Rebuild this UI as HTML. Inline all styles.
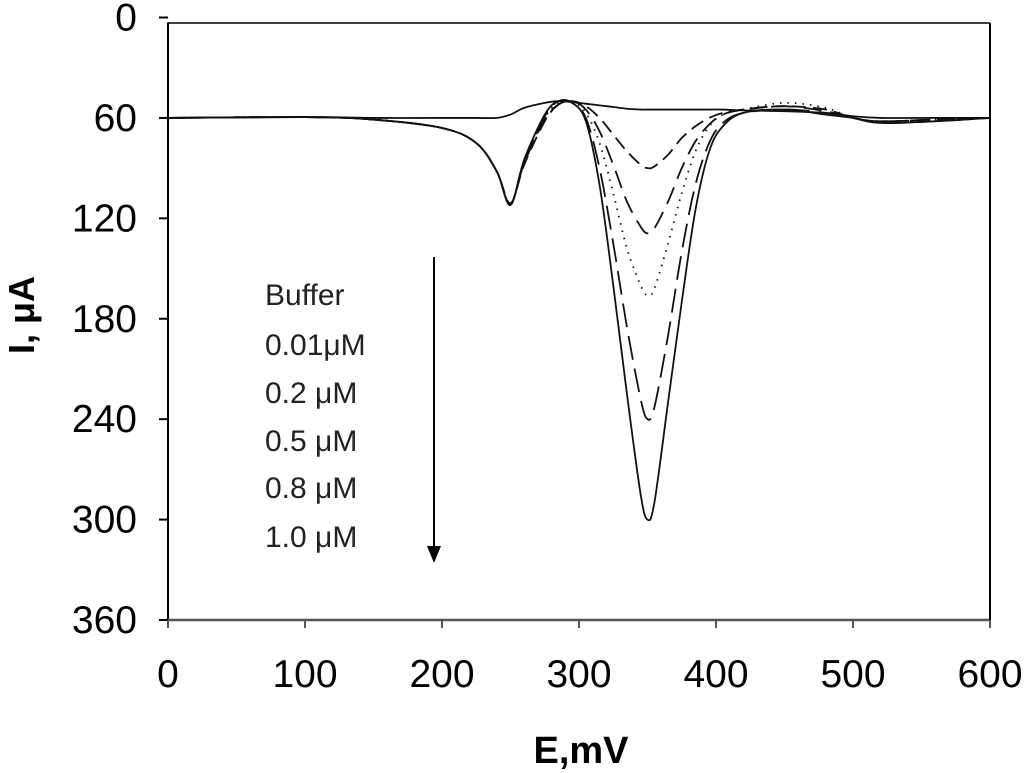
<!DOCTYPE html>
<html><head><meta charset="utf-8"><style>
html,body{margin:0;padding:0;background:#fff;}
svg{display:block;font-family:"Liberation Sans",Arial,sans-serif;}
</style></head><body>
<svg id="chart" width="1024" height="773" viewBox="0 0 1024 773">
<g id="axes"></g>
<g id="series"></g>
<g font-size="30" fill="#222">
<text x="265" y="305">Buffer</text>
<text x="265" y="355">0.01μM</text>
<text x="265" y="403">0.2 μM</text>
<text x="265" y="451">0.5 μM</text>
<text x="265" y="498">0.8 μM</text>
<text x="265" y="547">1.0 μM</text>
<line x1="434" y1="257" x2="434" y2="548" stroke="#000" stroke-width="2"/>
<polygon points="427,546 441,546 434,563" fill="#000"/>
</g>
<text x="581" y="763" text-anchor="middle" font-size="38" font-weight="bold">E,mV</text>
<text transform="translate(34,315) rotate(-90)" text-anchor="middle" font-size="36" font-weight="bold">I, μA</text>
</svg>
<script>
const xTicks=[0,100,200,300,400,500,600];
const yTicks=[0,60,120,180,240,300,360];
const E=[0,100,150,200,225,240,250,260,275,285,295,305,315,325,335,345,350,355,365,375,385,395,405,420,450,480,500,520,560,600];
const buffer=[60,59.5,60,60,60,60,58,54,51,50,50.5,51.5,52.5,53.5,54.5,55,55,55,55,55,55,55,55,55.5,56,57,59,60,60,60];
const c001=[60,59.5,61,66,75,92,111,88,62,52,50,53,60,70,80,88,90,89,82,72,65,60,57,55,53,55,60,62,61,60];
const c02=[60,59.5,61,66,75,92,111,87,61,52,50,55,68,88,110,125,129,126,110,90,74,64,58,55,53,56,60,62,61,60];
const c05=[60,59.5,61,66,75,92,111,86,60,51,50,57,75,105,138,160,166,162,135,105,80,65,58,55,51,54,60,62,61,60];
const c08=[60,59.5,61,66,75,92,112,85,59,50,51,60,90,135,185,228,240,233,190,140,100,75,63,57,55,57,60,63,62,60];
const c10=[60,59.5,61,66,75,92,112,85,58,50,51,62,100,160,225,285,300,290,230,170,115,80,65,57,55,58,60,63,62,60];
const X0=168,X1=990,Y0=17.5,Y1=620;
function xs(v){return X0+(v-0)*(X1-X0)/600;}
function ys(v){return Y0+(v-0)*(Y1-Y0)/360;}
const NS="http://www.w3.org/2000/svg";
const axes=document.getElementById('axes');
function mk(tag,attrs,parent){const e=document.createElementNS(NS,tag);for(const k in attrs)e.setAttribute(k,attrs[k]);parent.appendChild(e);return e;}
let l=mk('line',{x1:X0,y1:Y0+5,x2:X0,y2:Y1,stroke:'#000','stroke-width':2},axes);


l=mk('line',{x1:X0,y1:Y1,x2:X1,y2:Y1,stroke:'#555','stroke-width':2.5},axes);


l=mk('line',{x1:X0,y1:23,x2:X1,y2:23,stroke:'#000','stroke-width':1.5},axes);


l=mk('line',{x1:X1,y1:23,x2:X1,y2:Y1,stroke:'#000','stroke-width':2},axes);


yTicks.forEach(v=>{
 const t=mk('line',{x1:X0-9,y1:ys(v),x2:X0,y2:ys(v),stroke:'#000','stroke-width':2},axes);
 
 
 const tx=mk('text',{x:137,y:ys(v)+13,'text-anchor':'end','font-size':39},axes);
 tx.textContent=v;
 
 
});
xTicks.forEach(v=>{
 const t=mk('line',{x1:xs(v),y1:Y1,x2:xs(v),y2:Y1+8,stroke:'#555','stroke-width':2},axes);
 
 
 const tx=mk('text',{x:xs(v),y:687,'text-anchor':'middle','font-size':39},axes);
 tx.textContent=v;
 
 
});
function path(vals){
 const p=E.map((e,i)=>[xs(e),ys(vals[i])]);
 let d='M'+p[0][0]+','+p[0][1];
 for(let i=0;i<p.length-1;i++){
  const p0=p[i-1]||p[i],p1=p[i],p2=p[i+1],p3=p[i+2]||p[i+1];
  const t=6;
  d+=' C'+(p1[0]+(p2[0]-p0[0])/t)+','+(p1[1]+(p2[1]-p0[1])/t)+' '+(p2[0]-(p3[0]-p1[0])/t)+','+(p2[1]-(p3[1]-p1[1])/t)+' '+p2[0]+','+p2[1];
 }
 return d;
}
const sg=document.getElementById('series');
const defs=[[buffer,'none','series-buffer'],[c001,'14,7','series-0-01uM'],[c02,'18,9','series-0-2uM'],[c05,'1.5,6','series-0-5uM'],[c08,'24,9','series-0-8uM'],[c10,'none','series-1-0uM']];
defs.forEach(d=>{
 const p=mk('path',{d:path(d[0]),fill:'none',stroke:'#111','stroke-width':1.8},sg);
 if(d[1]!=='none')p.setAttribute('stroke-dasharray',d[1]);
 
 
});
</script>
</body></html>
